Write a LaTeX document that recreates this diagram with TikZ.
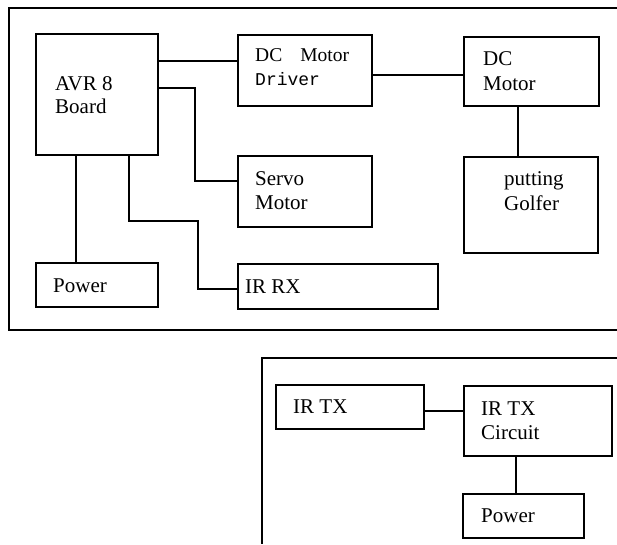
\documentclass[tikz,border=0pt]{standalone}
\usepackage{fontspec}
\setmainfont{Liberation Serif}
\newfontfamily\drvfont{Liberation Mono}
\begin{document}
\begin{tikzpicture}[x=1pt,y=-1pt,
  box/.style={draw,line width=1.8pt,rectangle,anchor=north west,inner sep=0pt},
  frame/.style={draw,line width=1.8pt},
  wire/.style={draw,line width=1.6pt},
  txt/.style={anchor=base west,inner sep=0pt,font=\fontsize{21}{24}\selectfont},
  stxt/.style={anchor=base west,inner sep=0pt,font=\fontsize{19.5}{22}\selectfont},
  mtxt/.style={anchor=base west,inner sep=0pt,font=\drvfont\fontsize{18}{20}\selectfont}]
\useasboundingbox (0,0) rectangle (617,544);
% frames
\draw[frame] (617,8) -- (9,8) -- (9,330) -- (617,330);
\draw[frame] (617,358) -- (262,358) -- (262,544);
% boxes
\node[box,minimum width=122pt,minimum height=121pt] (avr) at (35,33) {};
\node[box,minimum width=134pt,minimum height=71pt] (drv) at (237,34) {};
\node[box,minimum width=134pt,minimum height=71pt] (servo) at (237,155) {};
\node[box,minimum width=122pt,minimum height=44pt] (pwr) at (35,262) {};
\node[box,minimum width=200pt,minimum height=45pt] (irrx) at (237,263) {};
\node[box,minimum width=135pt,minimum height=69pt] (dcm) at (463,36) {};
\node[box,minimum width=134pt,minimum height=96pt] (golf) at (463,156) {};
\node[box,minimum width=148pt,minimum height=44pt] (irtx) at (275,384) {};
\node[box,minimum width=148pt,minimum height=70pt] (irc) at (463,385) {};
\node[box,minimum width=121pt,minimum height=44pt] (pwrb) at (462,493) {};
% texts
\node[txt] (t1) at (55,90) {AVR 8};
\node[txt] (t2) at (55,113) {Board};
\node[stxt] (t3) at (255,61) {DC\hspace{18pt}Motor};
\node[mtxt] (t4) at (255,85) {Driver};
\node[txt] (t5) at (255,185) {Servo};
\node[txt] (t6) at (255,209) {Motor};
\node[txt] (t7) at (53,292) {Power};
\node[txt] (t8) at (245,293) {IR RX};
\node[txt] (t9) at (483,65) {DC};
\node[txt] (t10) at (483,90) {Motor};
\node[txt] (t11) at (504,185) {putting};
\node[txt] (t12) at (504,210) {Golfer};
\node[txt] (t13) at (293,413) {IR TX};
\node[txt] (t14) at (481,415) {IR TX};
\node[txt] (t15) at (481,439) {Circuit};
\node[txt] (t16) at (481,522) {Power};
% connectors
\draw[wire] (avr.east |- 0,61) -- (drv.west |- 0,61);
\draw[wire] (drv.east |- 0,75) -- (dcm.west |- 0,75);
\draw[wire] (dcm.south -| 518,0) -- (golf.north -| 518,0);
\draw[wire] (avr.east |- 0,88) -- (195,88) -- (195,181) -- (servo.west |- 0,181);
\draw[wire] (avr.south -| 129,0) -- (129,221) -- (198,221) -- (198,289) -- (irrx.west |- 0,289);
\draw[wire] (avr.south -| 76,0) -- (pwr.north -| 76,0);
\draw[wire] (irtx.east |- 0,411) -- (irc.west |- 0,411);
\draw[wire] (irc.south -| 516,0) -- (pwrb.north -| 516,0);
\end{tikzpicture}
\end{document}
